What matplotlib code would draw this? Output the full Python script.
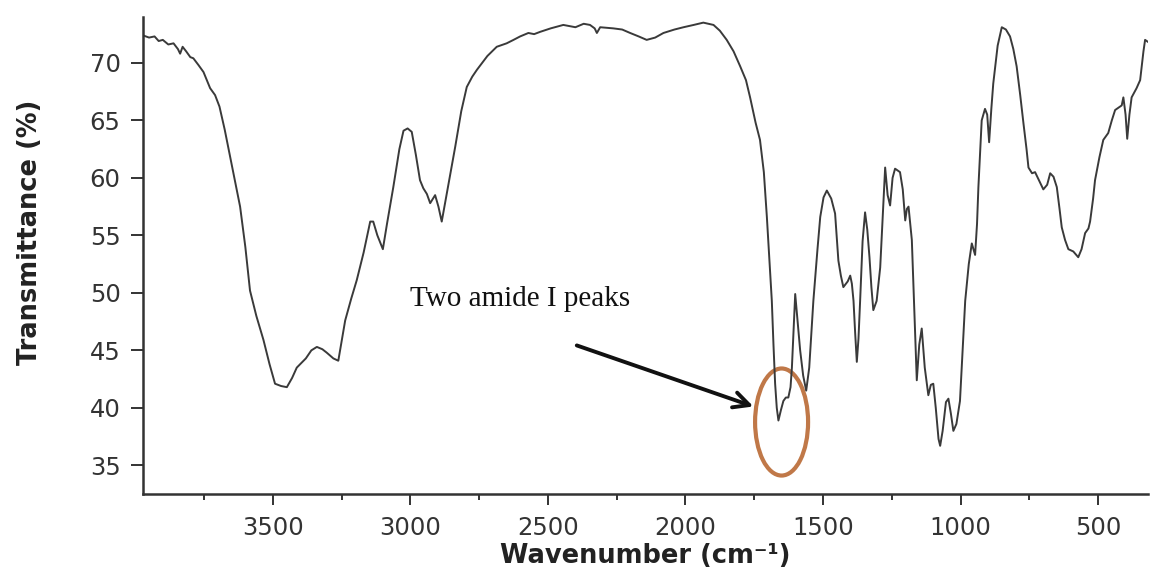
import matplotlib
matplotlib.use("Agg")
import matplotlib.pyplot as plt
from matplotlib.patches import Ellipse
from matplotlib.ticker import MultipleLocator

wavenumber = [
    3973, 3950, 3930, 3915, 3900, 3880, 3861, 3845, 3837, 3828, 3815, 3800, 3789, 3770, 3752,
    3740, 3728, 3710, 3694, 3675, 3655, 3637, 3619, 3600, 3583, 3560, 3534, 3512, 3492, 3470,
    3449, 3430, 3413, 3380, 3360, 3340, 3320, 3304, 3280, 3262, 3250, 3237, 3215, 3195, 3170,
    3146, 3135, 3120, 3100, 3085, 3062, 3040, 3025, 3010, 2995, 2980, 2965, 2953, 2940, 2928,
    2910, 2898, 2886, 2868, 2850, 2837, 2815, 2795, 2775, 2758, 2720, 2686, 2650, 2625, 2601,
    2571, 2550, 2528, 2490, 2444, 2400, 2370, 2347, 2330, 2322, 2310, 2262, 2230, 2201, 2170,
    2141, 2110, 2080, 2040, 2007, 1970, 1935, 1898, 1875, 1850, 1825, 1801, 1780, 1765, 1745,
    1729, 1715, 1704, 1695, 1686, 1680, 1674, 1668, 1662, 1653, 1644, 1635, 1626, 1618, 1613,
    1607, 1601, 1592, 1583, 1572, 1561, 1550, 1535, 1520, 1510, 1498, 1486, 1470, 1456, 1444,
    1435, 1426, 1410, 1401, 1395, 1389, 1383, 1377, 1371, 1365, 1356, 1347, 1339, 1331, 1324,
    1317, 1305, 1292, 1283, 1274, 1265, 1256, 1247, 1238, 1220, 1210, 1201, 1195, 1189, 1177,
    1168, 1159, 1150, 1141, 1130, 1117, 1108, 1099, 1090, 1080, 1074, 1065, 1053, 1044, 1035,
    1026, 1015, 1002, 990, 983, 970, 959, 947, 940, 935, 923, 911, 903, 896, 888,
    881, 865, 850, 835, 820, 808, 796, 783, 771, 760, 753, 740, 729, 715, 699,
    685, 674, 662, 650, 640, 632, 620, 608, 590, 572, 560, 547, 535, 529, 518,
    511, 495, 481, 463, 450, 438, 414, 408, 400, 394, 386, 378, 360, 347, 335,
    329, 317,
]
transmittance = [
    72.4, 72.2, 72.3, 71.9, 72.0, 71.6, 71.7, 71.2, 70.8, 71.4, 71.0, 70.5, 70.4, 69.8, 69.2,
    68.5, 67.8, 67.2, 66.2, 64.2, 61.8, 59.6, 57.5, 54.0, 50.2, 48.0, 45.9, 43.8, 42.1, 41.9,
    41.8, 42.6, 43.5, 44.3, 45.0, 45.3, 45.1, 44.8, 44.3, 44.1, 45.8, 47.6, 49.5, 51.1, 53.5,
    56.2, 56.2, 55.0, 53.8, 56.0, 59.2, 62.5, 64.1, 64.3, 64.0, 62.0, 59.8, 59.1, 58.6, 57.8,
    58.5, 57.5, 56.2, 58.6, 61.0, 62.7, 65.8, 67.9, 68.8, 69.4, 70.6, 71.4, 71.7, 72.0, 72.3,
    72.6, 72.5, 72.7, 73.0, 73.3, 73.1, 73.4, 73.3, 73.0, 72.6, 73.1, 73.0, 72.9, 72.6, 72.3,
    72.0, 72.2, 72.6, 72.9, 73.1, 73.3, 73.5, 73.3, 72.8, 72.0, 71.0, 69.7, 68.5, 67.0, 64.8,
    63.3, 60.5, 56.6, 53.0, 49.3, 45.5, 42.1, 40.0, 38.9, 39.8, 40.6, 40.9, 40.9, 41.8, 43.5,
    46.8, 49.9, 47.5, 45.0, 42.8, 41.5, 43.5, 49.3, 53.8, 56.6, 58.3, 58.9, 58.2, 56.9, 52.8,
    51.5, 50.5, 51.0, 51.5, 50.8, 49.3, 46.5, 44.0, 46.0, 49.3, 54.5, 57.0, 55.5, 53.1, 50.5,
    48.5, 49.3, 52.2, 56.5, 60.9, 58.5, 57.6, 60.0, 60.8, 60.5, 59.0, 56.3, 57.3, 57.5, 54.6,
    48.5, 42.4, 45.5, 46.9, 43.5, 41.1, 42.0, 42.1, 40.0, 37.3, 36.7, 38.0, 40.5, 40.8, 39.5,
    38.0, 38.6, 40.6, 46.0, 49.3, 52.5, 54.3, 53.3, 56.0, 59.2, 65.0, 66.0, 65.5, 63.1, 66.0,
    68.2, 71.5, 73.1, 72.9, 72.3, 71.2, 69.7, 67.2, 64.7, 62.5, 60.9, 60.4, 60.5, 59.8, 59.0,
    59.4, 60.4, 60.1, 59.2, 57.3, 55.7, 54.6, 53.8, 53.6, 53.1, 53.8, 55.2, 55.6, 56.2, 58.2,
    59.8, 61.8, 63.3, 63.9, 65.0, 65.9, 66.3, 67.0, 65.5, 63.4, 65.5, 67.0, 67.8, 68.5, 71.0,
    72.0, 71.8,
]
x_ticks = [3500, 3000, 2500, 2000, 1500, 1000, 500]
y_ticks = [35, 40, 45, 50, 55, 60, 65, 70]
annotation_text = "Two amide I peaks"

fig = plt.figure(figsize=(11.51, 5.82), dpi=100)
ax = fig.add_axes([0.124, 0.151, 0.8735, 0.820])

ax.plot(wavenumber, transmittance, color="#3a3a3a", lw=1.4,
        solid_joinstyle="round")
ax.set_xlim(3973, 318)
ax.set_ylim(32.5, 74.0)

ax.set_xticks(x_ticks)
ax.xaxis.set_minor_locator(MultipleLocator(250))
ax.set_yticks(y_ticks)

for s in ["top", "right"]:
    ax.spines[s].set_visible(False)
for s in ["left", "bottom"]:
    ax.spines[s].set_linewidth(1.8)
    ax.spines[s].set_color("#333333")

ax.tick_params(axis="x", which="major", length=8, width=1.4, color="#333333",
               pad=8, labelsize=17.5, labelcolor="#333333")
ax.tick_params(axis="x", which="minor", length=4, width=1.4, color="#333333")
ax.tick_params(axis="y", which="major", length=9, width=1.4, color="#333333",
               pad=7, labelsize=17.5, labelcolor="#333333")
for lab in ax.get_xticklabels() + ax.get_yticklabels():
    lab.set_family("DejaVu Sans")

ax.set_xlabel("Wavenumber (cm\u207b\u00b9)", fontsize=18.5, fontweight="bold",
              color="#222222", family="DejaVu Sans", labelpad=2)
ax.set_ylabel("Transmittance (%)", fontsize=18.5, fontweight="bold",
              color="#222222", family="DejaVu Sans")
ax.yaxis.set_label_coords(-0.099, 0.548)

ax.text(3001, 48.9, annotation_text, family="Liberation Serif", fontsize=21,
        ha="left", va="baseline", color="#111111")
ax.annotate("", xy=(1753, 40.12), xytext=(2395, 45.43),
            arrowprops=dict(arrowstyle="->", lw=2.8, color="#111111",
                            mutation_scale=28, shrinkA=0, shrinkB=0))
ax.add_patch(Ellipse((1650.5, 38.77), width=192.7, height=9.31, fill=False,
                     edgecolor="#C07848", lw=3))

fig.savefig("out.png", dpi=100)
